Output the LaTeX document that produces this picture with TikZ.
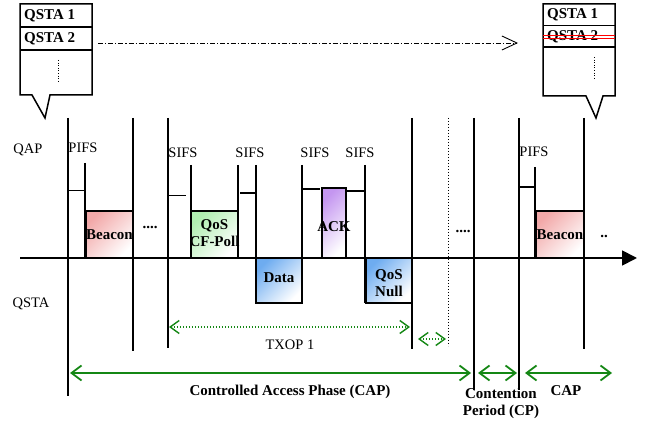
\documentclass[tikz,border=0pt]{standalone}
\usepackage{fontspec}
\setmainfont{Liberation Serif}
\usetikzlibrary{arrows.meta}
\definecolor{capgreen}{RGB}{20,135,20}
\definecolor{beaconpink}{RGB}{242,168,168}
\definecolor{pollgreen}{RGB}{176,238,176}
\definecolor{datablue}{RGB}{110,172,240}
\definecolor{ackviolet}{RGB}{196,150,240}
\begin{document}
\begin{tikzpicture}[x=1pt,y=-1pt,
  tl/.style={line width=1.6pt},
  tick/.style={line width=1.6pt},
  frame/.style={line width=1.5pt},
  box/.style={draw, line width=1.6pt, inner sep=0pt},
  grad/.style={bottom color=white, top color=#1, shading angle=45},
  txt/.style={font=\fontsize{14.5}{16}\selectfont, inner sep=0pt},
  btxt/.style={font=\fontsize{15}{17}\selectfont\bfseries, inner sep=0pt, align=center},
  span/.style={draw=capgreen, line width=1.8pt, {Straight Barb[length=10pt,width=15pt]}-{Straight Barb[length=10pt,width=15pt]}},
  dspan/.style={draw=capgreen, line width=1.4pt, dash pattern=on 1.3pt off 1.7pt,
    {Straight Barb[length=9pt,width=13pt]}-{Straight Barb[length=9pt,width=13pt]}},
  dots/.style={line width=0.9pt, dash pattern=on 1pt off 1.6pt}
]
\useasboundingbox (0,0) rectangle (649,425);

% ---- station lists (callouts) ----
\draw[frame] (20,4) -- (92,4) -- (92,95) -- (50,95) -- (45,118) -- (32,95) -- (20,95) -- cycle;
\draw[frame] (20,27) -- (92,27) (20,50) -- (92,50);
\node[btxt, anchor=west] (l1) at (24,15.5) {QSTA 1};
\node[btxt, anchor=west] (l2) at (24,38.5) {QSTA 2};
\draw[dots] (58,60) -- (58,82);

\draw[frame] (543,4) -- (615,4) -- (615,96) -- (603,96) -- (596,118) -- (586,96) -- (543,96) -- cycle;
\draw[frame] (543,25.5) -- (615,25.5) (543,47) -- (615,47);
\node[btxt, anchor=west] (r1) at (547,14.5) {QSTA 1};
\node[btxt, anchor=west] (r2) at (547,36.5) {QSTA 2};
\draw[red, line width=1pt] (543,35.3) -- (615,35.3) (543,39) -- (615,39);
\draw[dots] (594,57) -- (594,78);

\coordinate (mvS) at (98,43);
\coordinate (mvE) at (518,43);
\draw[line width=0.9pt, dash pattern=on 5pt off 2pt on 1.2pt off 2pt,
  -{Straight Barb[length=15pt,width=14pt]}] (mvS) -- (mvE);

% ---- time axis ----
\draw[line width=1.8pt, -{Triangle[length=15pt,width=15pt]}] (20,258) -- (637,258);

% ---- frame boundaries ----
\draw[tl] (68,118) -- (68,396);
\draw[tl] (133,118) -- (133,351);
\draw[tl] (168,118) -- (168,348);
\draw[tl] (412,118) -- (412,349);
\draw[line width=1pt, dash pattern=on 1pt off 2pt] (448,118) -- (448,346);
\draw[tl] (474,118) -- (474,390);
\draw[tl] (519,118) -- (519,390);
\draw[tl] (584,118) -- (584,349);

% ---- frames ----
\node[box, grad=beaconpink, minimum width=47pt, minimum height=47pt] (bcn1) at (109.5,234.5) {};
\node[btxt] at (bcn1) {Beacon};
\node[box, grad=pollgreen, minimum width=47pt, minimum height=47pt] (poll) at (214.5,234.5) {};
\node[btxt] at ([yshift=1.5pt]poll.center) {QoS\\CF-Poll};
\node[box, grad=datablue, minimum width=46pt, minimum height=45pt] (data) at (279,280.5) {};
\node[btxt] at ([yshift=3pt]data.center) {Data};
\node[box, grad=ackviolet, minimum width=24pt, minimum height=70pt] (ack) at (334,223) {};
\node[btxt] at ([yshift=-4pt]ack.center) {ACK};
\node[box, grad=datablue, minimum width=46pt, minimum height=45pt] (null) at (389,280.5) {};
\node[btxt] at ([yshift=-2.5pt]null.center) {QoS\\Null};
\node[box, grad=beaconpink, minimum width=48pt, minimum height=47pt] (bcn2) at (560,234.5) {};
\node[btxt] at (bcn2) {Beacon};

% ---- inter-frame spaces ----
\draw[tick] (85,163) -- (85,258);
\draw[tick] (68,190.5) -- (86,190.5);
\draw[tick] (191,165) -- (191,258);
\draw[tick] (168,195.5) -- (186,195.5);
\draw[tick] (238,165) -- (238,258);
\draw[tick] (240,193) -- (257,193);
\draw[tick] (256,165) -- (256,303);
\draw[tick] (302,165) -- (302,303);
\draw[tick] (302,189) -- (320,189);
\draw[tick] (346,191) -- (364,191);
\draw[tick] (365,165) -- (365,303);
\draw[tick] (535,167) -- (535,259);
\draw[tick] (519,187) -- (536,187);

% ---- labels ----
\node[txt] (qap) at (28,150) {QAP};
\node[txt] (qsta) at (31,304) {QSTA};
\node[txt] at (83,148) {PIFS};
\node[txt] at (183,153) {SIFS};
\node[txt] at (250,153) {SIFS};
\node[txt] at (315,153) {SIFS};
\node[txt] at (360,153) {SIFS};
\node[txt] at (534,152) {PIFS};
\node[btxt, anchor=base] at (150,229) {....};
\node[btxt, anchor=base] at (463,233) {....};
\node[btxt, anchor=base] at (604,238) {..};

% ---- periods ----
\coordinate (txS) at (169,327);
\coordinate (txE) at (410,327);
\draw[dspan] (txS) -- (txE);
\node[txt] at (290,345) {TXOP 1};
\coordinate (gS) at (418,339);
\coordinate (gE) at (446,339);
\draw[dspan] (gS) -- (gE);

\coordinate (capS) at (70,373);
\coordinate (capE) at (471,373);
\coordinate (cpS) at (478,373);
\coordinate (cpE) at (517,373);
\coordinate (cap2S) at (525,373);
\coordinate (cap2E) at (612,373);
\draw[span] (capS) -- (capE);
\draw[span] (cpS) -- (cpE);
\draw[span] (cap2S) -- (cap2E);
\node[btxt] at (290,392) {Controlled Access Phase (CAP)};
\node[btxt] at (501,403) {Contention\\Period (CP)};
\node[btxt] at (566,391) {CAP};
\end{tikzpicture}
\end{document}
